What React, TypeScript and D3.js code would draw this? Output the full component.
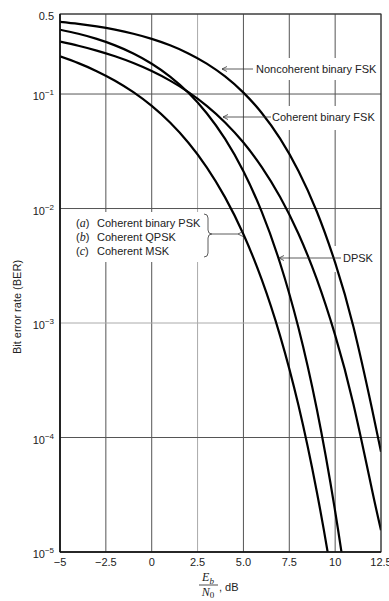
import React from 'react';
import * as d3 from 'd3';

// Eb/N0 in dB (sample points)
const ebN0 = [-5, -4, -3, -2, -1, 0, 1, 2, 3, 4, 5, 6, 7, 8, 9, 10, 11, 12, 12.5];

// Bit error rates (null = far below the plotted range)
const nonCoherentFSK = [0.4269, 0.4098, 0.3892, 0.3647, 0.3361, 0.3033, 0.2665, 0.2264, 0.1844, 0.1424, 0.1029, 0.06832, 0.0408, 0.02132, 0.00942, 0.003369, 0.000923, 0.000181, 0.000075];
const coherentFSK = [0.287, 0.264, 0.2395, 0.2135, 0.1864, 0.1587, 0.1309, 0.104, 0.0789, 0.0565, 0.0377, 0.023, 0.01259, 0.00602, 0.002413, 0.000783, 0.000194, 0.0000355, 0.0000155];
const dpsk = [0.3645, 0.3358, 0.3029, 0.2661, 0.226, 0.1839, 0.142, 0.1025, 0.068, 0.04056, 0.02116, 0.009332, 0.003329, 0.000909, 0.0001775, 0.0000227, 0.0000017, 0.000000065, null];
const coherentPSK = [0.2132, 0.1861, 0.1584, 0.1307, 0.1038, 0.0787, 0.0563, 0.0375, 0.02288, 0.01251, 0.00596, 0.002388, 0.000773, 0.0001909, 0.0000336, 0.00000387, 0.00000026, null, null];

const xTicks = [-5, -2.5, 0, 2.5, 5, 7.5, 10, 12.5];
const xTickLabels = ['\u22125', '\u22122.5', '0', '2.5', '5.0', '7.5', '10', '12.5'];
const yTicks = [0.5, 1e-1, 1e-2, 1e-3, 1e-4, 1e-5];
const yTickBases = ['0.5', '10', '10', '10', '10', '10'];
const yTickExps = ['', '\u22121', '\u22122', '\u22123', '\u22124', '\u22125'];
const lightVertical = [2.5];
const lightHorizontal = [1e-3];

const legendItems = [
  { tag: 'a', text: 'Coherent binary PSK' },
  { tag: 'b', text: 'Coherent QPSK' },
  { tag: 'c', text: 'Coherent MSK' },
];

const FONT = '"Liberation Sans", Arial, Helvetica, sans-serif';
const SERIF = '"Liberation Serif", "Times New Roman", serif';

export default function App() {
  const W = 389, H = 601;
  const L = 60, R = 381, T = 14, B = 552;
  const x = d3.scaleLinear().domain([-5, 12.5]).range([L, R]);
  const y = d3.scaleLog().domain([1e-5, 0.5]).range([B, T]);

  const line = d3
    .line<[number, number | null]>()
    .defined((d) => d[1] != null)
    .x((d) => x(d[0]))
    .y((d) => y(d[1] as number))
    .curve(d3.curveNatural);

  const series = [nonCoherentFSK, coherentFSK, dpsk, coherentPSK];

  const arrow = (x1: number, x2: number, yy: number, key: string) => (
    <g key={key} stroke="#333" strokeWidth={0.8} fill="none">
      <line x1={x1} y1={yy} x2={x2} y2={yy} />
      <path d={`M${x1 + 5},${yy - 2.5} L${x1},${yy} L${x1 + 5},${yy + 2.5}`} />
    </g>
  );

  return (
    <svg width={W} height={H} style={{ position: 'absolute', left: 0, top: 0, background: '#fff' }}>
      <defs>
        <clipPath id="plotClip">
          <rect x={L} y={T} width={R - L} height={B - T} />
        </clipPath>
      </defs>
      <rect x={0} y={0} width={W} height={H} fill="#fff" />

      {/* grid */}
      {xTicks.map((t) => (
        <line key={'vx' + t} x1={x(t)} x2={x(t)} y1={T} y2={B}
          stroke={lightVertical.includes(t) ? '#aaa' : '#555'} strokeWidth={1} />
      ))}
      {yTicks.map((t) => (
        <line key={'hy' + t} x1={L} x2={R} y1={y(t)} y2={y(t)}
          stroke={lightHorizontal.includes(t) ? '#aaa' : '#555'} strokeWidth={1} />
      ))}

      {/* white label backgrounds */}
      <rect x={254} y={58} width={125} height={22} fill="#fff" />
      <rect x={270} y={106} width={109} height={24} fill="#fff" />
      <rect x={334} y={246} width={36} height={26} fill="#fff" />
      <rect x={62} y={212} width={150} height={50} fill="#fff" />

      {/* curves */}
      <g clipPath="url(#plotClip)">
        {series.map((s, i) => (
          <path key={i}
            d={line(ebN0.map((e, j) => [e, s[j]] as [number, number | null])) || ''}
            fill="none" stroke="#000" strokeWidth={2.2} strokeLinejoin="round" />
        ))}
      </g>

      {/* frame */}
      <rect x={L} y={T} width={R - L} height={B - T} fill="none" stroke="#333" strokeWidth={1} />
      <line x1={L} x2={L} y1={T} y2={B} stroke="#111" strokeWidth={1.6} />
      <line x1={L} x2={R} y1={B} y2={B} stroke="#111" strokeWidth={1.6} />

      {/* y tick labels */}
      {yTicks.map((t, i) => (
        <text key={'yl' + t} x={54} y={y(t) + 6} textAnchor="end"
          fontFamily={FONT} fontSize={11} fill="#222">
          <tspan>{yTickBases[i]}</tspan>
          {yTickExps[i] && <tspan dy={-5} fontSize={8}>{yTickExps[i]}</tspan>}
        </text>
      ))}

      {/* x tick labels */}
      {xTicks.map((t, i) => (
        <text key={'xl' + t} x={x(t)} y={566} textAnchor="middle"
          fontFamily={FONT} fontSize={11} fill="#222">{xTickLabels[i]}</text>
      ))}

      {/* x axis title: Eb/N0, dB */}
      <text x={208} y={581} textAnchor="middle" fontFamily={SERIF} fontStyle="italic" fontSize={12} fill="#222">
        E<tspan dy={3} fontSize={9}>b</tspan>
      </text>
      <line x1={199} x2={218} y1={585} y2={585} stroke="#222" strokeWidth={0.8} />
      <text x={208} y={596} textAnchor="middle" fontFamily={SERIF} fontStyle="italic" fontSize={12} fill="#222">
        N<tspan dy={2} fontSize={9} fontStyle="normal">0</tspan>
      </text>
      <text x={219} y={591} fontFamily={FONT} fontSize={11} fill="#222">, dB</text>

      {/* y axis title */}
      <text transform="translate(21,307) rotate(-90)" textAnchor="middle" fontFamily={FONT} fontSize={11} fill="#222">
        Bit error rate (BER)
      </text>

      {/* annotations */}
      <text x={256} y={73} fontFamily={FONT} fontSize={11} fill="#222">Noncoherent binary FSK</text>
      {arrow(222, 253, 69, 'a1')}
      <text x={272} y={121} fontFamily={FONT} fontSize={11} fill="#222">Coherent binary FSK</text>
      {arrow(223, 271, 117, 'a2')}
      <text x={343} y={262} fontFamily={FONT} fontSize={11} fill="#222">DPSK</text>
      {arrow(279, 341, 258, 'a3')}

      {/* legend */}
      {legendItems.map((it, i) => (
        <text key={it.tag} x={76} y={227 + i * 14} fontFamily={FONT} fontSize={11} fill="#222">
          <tspan>(</tspan>
          <tspan fontFamily={SERIF} fontStyle="italic" fontSize={12}>{it.tag}</tspan>
          <tspan>)</tspan>
          <tspan x={97}>{it.text}</tspan>
        </text>
      ))}
      <path d="M204,214 Q208,214 208,218 L208,230 Q208,234 212,234 Q208,234 208,238 L208,253 Q208,257 204,257"
        fill="none" stroke="#333" strokeWidth={0.8} />
      {arrow(238, 212, 234, 'a4')}
    </svg>
  );
}
